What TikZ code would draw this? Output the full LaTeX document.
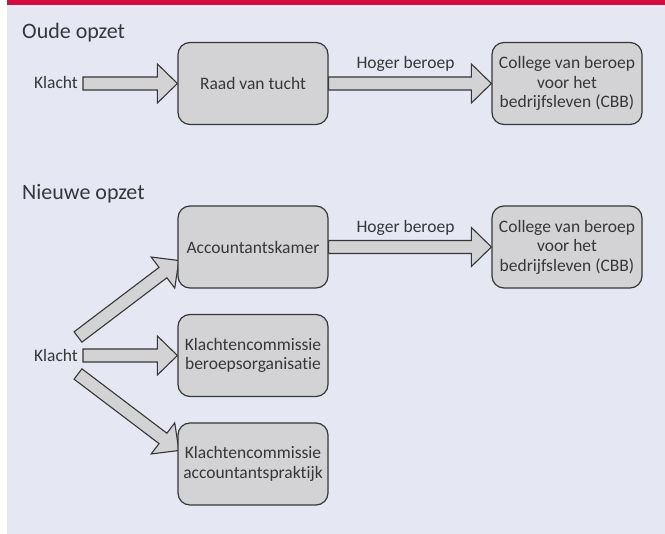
\documentclass[tikz,border=0pt]{standalone}
\usepackage{fontspec}
\setmainfont{Carlito}[Ligatures={NoCommon}]
\usetikzlibrary{calc}

\definecolor{bgblue}{RGB}{229,231,243}
\definecolor{topred}{RGB}{213,10,62}
\definecolor{boxgray}{RGB}{211,211,213}
\definecolor{linegray}{RGB}{55,55,55}
\definecolor{txtgray}{RGB}{55,55,55}

\pgfdeclarelayer{back}
\pgfdeclarelayer{arrows}
\pgfsetlayers{back,arrows,main}

\tikzset{
  box/.style={rectangle, rounded corners=12pt, draw=linegray, line width=1.2pt, fill=boxgray,
    minimum width=150pt, minimum height=82pt, inner sep=2pt, align=center,
    text=txtgray, font=\fontsize{17.5}{19.5}\selectfont},
  lbl/.style={text=txtgray, font=\fontsize{17.5}{19.5}\selectfont, inner sep=0pt, anchor=base},
  title/.style={text=txtgray, font=\fontsize{22}{26}\selectfont, inner sep=0pt, anchor=base west},
  fat/.style={draw=linegray, line width=1.1pt, fill=boxgray, line join=miter}
}

% broad arrow from #1 to #2
\newcommand\fatarrow[2]{%
  \coordinate (fa-h) at ($(#2)!20pt!(#1)$);
  \draw[fat] ($(#1)!6.5pt!90:(#2)$) -- ($(fa-h)!6.5pt!90:(#2)$) -- ($(fa-h)!19.5pt!90:(#2)$)
    -- (#2) -- ($(fa-h)!19.5pt!-90:(#2)$) -- ($(fa-h)!6.5pt!-90:(#2)$) -- ($(#1)!6.5pt!-90:(#2)$) -- cycle;}

\begin{document}
\begin{tikzpicture}[x=1pt, y=-1pt]

  \useasboundingbox (0,0) rectangle (665,534);
  \begin{pgfonlayer}{back}
    \fill[bgblue] (7,0) rectangle (665,534);
    \fill[topred] (7,0) rectangle (665,5);
  \end{pgfonlayer}

  \node[title] (oud) at (22,38.3) {Oude opzet};
  \node[title] (nieuw) at (22,199.3) {Nieuwe opzet};

  \foreach \n/\x/\y/\t in {raad/253/83.5/Raad van tucht,
      cbb1/567/83.5/{College van beroep\\voor het\\bedrijfsleven (CBB)},
      kamer/253/247/Accountantskamer,
      cbb2/567/247/{College van beroep\\voor het\\bedrijfsleven (CBB)},
      kbo/253/355.5/{Klachtencommissie\\beroepsorganisatie},
      kap/253/464/{Klachtencommissie\\accountantspraktijk}}
    \node[box] (\n) at (\x,\y) {\t};

  \node[lbl, anchor=base east] (k1) at (78,89) {Klacht};
  \node[lbl, anchor=base east] (k2) at (78,362) {Klacht};
  \coordinate (t1) at (83,83.5);
  \coordinate (t2) at (78,337);
  \coordinate (t3) at (83,355.5);
  \coordinate (t4) at (78,374);

  \node[lbl] (hb1) at ($(raad.east)!0.5!(cbb1.west)+(-4.5,-15)$) {Hoger beroep};
  \node[lbl] (hb2) at ($(kamer.east)!0.5!(cbb2.west)+(-4.5,-14.5)$) {Hoger beroep};

  \begin{pgfonlayer}{arrows}
    \fatarrow{t1}{raad.west}
    \fatarrow{raad.east}{cbb1.west}
    \fatarrow{t2}{$(kamer.west)+(1.5,13.5)$}
    \fatarrow{t3}{kbo.west}
    \fatarrow{t4}{$(kap.west)+(1.5,-13.5)$}
    \fatarrow{kamer.east}{cbb2.west}
  \end{pgfonlayer}

\end{tikzpicture}
\end{document}
